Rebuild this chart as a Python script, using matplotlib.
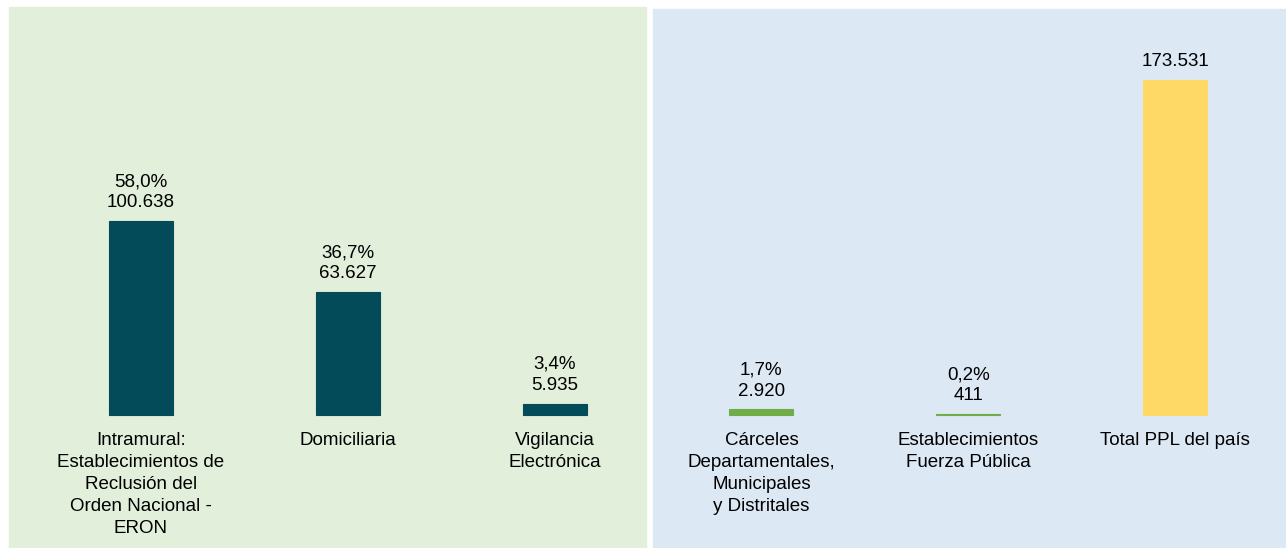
import matplotlib.pyplot as plt
from matplotlib.patches import Rectangle

plt.rcParams['font.family'] = ['Liberation Sans', 'DejaVu Sans']

# datos
categorias = [
    "Intramural:\nEstablecimientos de\nReclusión del\nOrden Nacional -\nERON",
    "Domiciliaria",
    "Vigilancia\nElectrónica",
    "Cárceles\nDepartamentales,\nMunicipales\ny Distritales",
    "Establecimientos\nFuerza Pública",
    "Total PPL del país",
]
valores = [100638, 63627, 5935, 2920, 411, 173531]
porcentajes = ["58,0%", "36,7%", "3,4%", "1,7%", "0,2%", None]
colores = ["#034b59", "#034b59", "#034b59", "#70ad47", "#70ad47", "#ffd966"]

fig = plt.figure(figsize=(12.86, 5.48), dpi=100)

# eje que ocupa toda la figura
ax = fig.add_axes([0, 0, 1, 1])
ax.axis("off")

# paneles de fondo
ax.add_patch(Rectangle((9 / 1286, 0), 637 / 1286, 541 / 548,
                       transform=ax.transAxes, color="#e2efda", zorder=0))
ax.add_patch(Rectangle((653 / 1286, 0), 633 / 1286, 539 / 548,
                       transform=ax.transAxes, color="#dde8f5", zorder=0))

x = list(range(len(valores)))
ax.bar(x, valores, width=0.31, color=colores, edgecolor=colores,
       linewidth=0.8, zorder=2)

ax.set_xlim(-0.681, 5.536)
ax.set_ylim(-68895, 214970)

for xi, v, p, lab in zip(x, valores, porcentajes, categorias):
    txt = f"{v:,}".replace(",", ".")
    if p:
        txt = p + "\n" + txt
    ax.annotate(txt, (xi, v), xytext=(0, 7), textcoords="offset points",
                ha="center", va="bottom", fontsize=13.5, linespacing=1.3, zorder=3)
    ax.annotate(lab, (xi, 0), xytext=(0, -12), textcoords="offset points",
                ha="center", va="top", fontsize=13.5, linespacing=1.4, zorder=3)

fig.savefig("out.png", dpi=100)
